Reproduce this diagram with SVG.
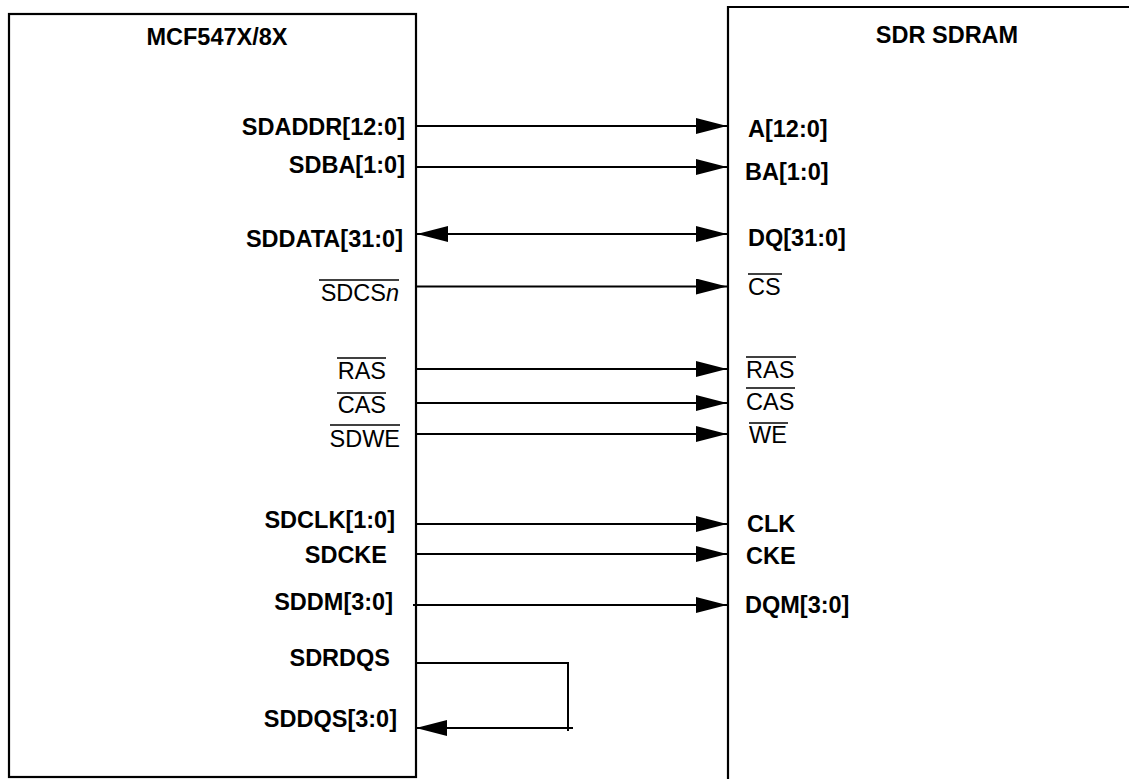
<svg xmlns="http://www.w3.org/2000/svg" width="1129" height="779" viewBox="0 0 1129 779">
<style>
.box{fill:none;stroke:#000;stroke-width:2.2}
.w{stroke:#000;stroke-width:2;fill:none}
.ov{stroke:#000;stroke-width:1.4}
text{font-family:"Liberation Sans",Arial,Helvetica,sans-serif;font-size:23.5px;fill:#000}
.b{font-weight:bold}
.e{text-anchor:end}
.m{text-anchor:middle}
</style>
<defs>
<marker id="ah" markerUnits="userSpaceOnUse" markerWidth="31" markerHeight="16" refX="31" refY="8" orient="auto-start-reverse">
<path d="M0,0 L31,8 L0,16 z" fill="#000"/>
</marker>
</defs>
<g id="mcf">
<rect class="box" x="9" y="14" width="407" height="763"/>
<text class="b m" x="217" y="45">MCF547X/8X</text>
<text class="b e" x="405" y="135">SDADDR[12:0]</text>
<text class="b e" x="405" y="173">SDBA[1:0]</text>
<text class="b e" x="403" y="247">SDDATA[31:0]</text>
<text class="e" x="399" y="301">SDCS<tspan font-style="italic">n</tspan></text>
<line class="ov" x1="319" y1="280" x2="399" y2="280"/>
<text class="e" x="386" y="379">RAS</text>
<line class="ov" x1="337" y1="358" x2="386" y2="358"/>
<text class="e" x="386" y="413">CAS</text>
<line class="ov" x1="337" y1="393" x2="386" y2="393"/>
<text class="e" x="400" y="447">SDWE</text>
<line class="ov" x1="330" y1="425" x2="400" y2="425"/>
<text class="b e" x="395" y="528">SDCLK[1:0]</text>
<text class="b e" x="387" y="563">SDCKE</text>
<text class="b e" x="393" y="610">SDDM[3:0]</text>
<text class="b e" x="390" y="666">SDRDQS</text>
<text class="b e" x="397" y="727">SDDQS[3:0]</text>
</g>
<g id="sdram">
<path class="box" d="M728,779 V7 H1129"/>
<text class="b m" x="947" y="43">SDR SDRAM</text>
<text class="b" x="748" y="137">A[12:0]</text>
<text class="b" x="745" y="180">BA[1:0]</text>
<text class="b" x="748" y="246">DQ[31:0]</text>
<text x="748" y="295">CS</text>
<line class="ov" x1="748" y1="274" x2="782" y2="274"/>
<text x="746" y="378">RAS</text>
<line class="ov" x1="746" y1="357" x2="796" y2="357"/>
<text x="746" y="410">CAS</text>
<line class="ov" x1="746" y1="388" x2="795" y2="388"/>
<text x="749" y="443">WE</text>
<line class="ov" x1="749" y1="423" x2="788" y2="423"/>
<text class="b" x="747" y="532">CLK</text>
<text class="b" x="746" y="564">CKE</text>
<text class="b" x="745" y="613">DQM[3:0]</text>
</g>
<g id="connectors">
<line class="w" x1="417" y1="126" x2="727" y2="126" marker-end="url(#ah)"/>
<line class="w" x1="417" y1="167" x2="727" y2="167" marker-end="url(#ah)"/>
<line class="w" x1="417" y1="234" x2="727" y2="234" marker-start="url(#ah)" marker-end="url(#ah)"/>
<line class="w" x1="417" y1="286.5" x2="727" y2="286.5" marker-end="url(#ah)"/>
<line class="w" x1="417" y1="369" x2="727" y2="369" marker-end="url(#ah)"/>
<line class="w" x1="417" y1="403" x2="727" y2="403" marker-end="url(#ah)"/>
<line class="w" x1="417" y1="434" x2="727" y2="434" marker-end="url(#ah)"/>
<line class="w" x1="417" y1="524" x2="727" y2="524" marker-end="url(#ah)"/>
<line class="w" x1="417" y1="554" x2="727" y2="554" marker-end="url(#ah)"/>
<line class="w" x1="413" y1="605" x2="727" y2="605" marker-end="url(#ah)"/>
<path class="w" d="M417,663 H568 V731"/>
<line class="w" x1="573" y1="728" x2="416" y2="728" marker-end="url(#ah)"/>
</g>
</svg>
